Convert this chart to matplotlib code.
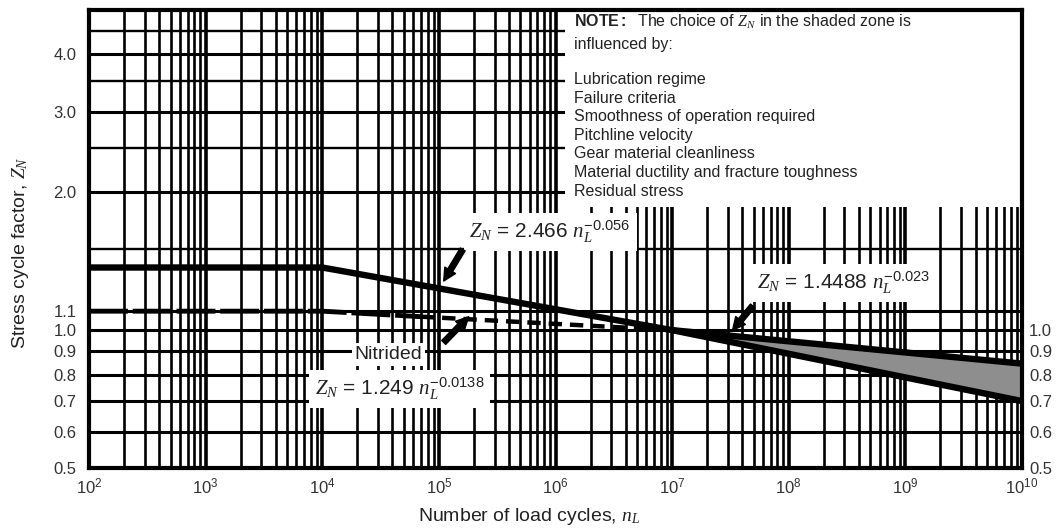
import matplotlib
matplotlib.use("Agg")
import matplotlib.pyplot as plt
from matplotlib.patches import Rectangle
from matplotlib.ticker import FixedLocator, LogLocator, NullFormatter
import numpy as np

plt.rcParams['font.family'] = ['Liberation Sans', 'DejaVu Sans']
plt.rcParams['mathtext.fontset'] = 'custom'
plt.rcParams['mathtext.rm'] = 'Liberation Sans'
plt.rcParams['mathtext.it'] = 'Liberation Serif:italic'
plt.rcParams['mathtext.bf'] = 'Liberation Sans:bold'

# curves
cycles_upper = [1e2, 1e4, 1e7, 1e10]
zn_upper = [1.37, 1.37, 1.0, 0.70]

cycles_nitr_solid = [1e2, 1e4, 7e4]
zn_nitr_solid = [1.10, 1.10, 1.07]
cycles_nitr_dash = [7e4, 1e7]
zn_nitr_dash = [1.07, 1.0]

cycles_shade = [1e7, 1e10]
zn_shade_top = [1.0, 0.845]
zn_shade_bot = [1.0, 0.70]

yticks_left = [0.5, 0.6, 0.7, 0.8, 0.9, 1.0, 1.1, 2.0, 3.0, 4.0]
yticks_minor = [1.5, 2.5, 3.5, 4.5]
yticks_right = [0.5, 0.6, 0.7, 0.8, 0.9, 1.0]

note_items = ["Lubrication regime", "Failure criteria",
              "Smoothness of operation required", "Pitchline velocity",
              "Gear material cleanliness",
              "Material ductility and fracture toughness", "Residual stress"]

fig = plt.figure(figsize=(10.56, 5.29), dpi=100)
ax = fig.add_axes([0.0843, 0.1153, 0.8835, 0.8658])
ax.set_xscale('log')
ax.set_yscale('log')
ax.set_xlim(1e2, 1e10)
ax.set_ylim(0.5, 5.0)

ax.xaxis.set_minor_locator(LogLocator(base=10, subs=np.arange(2, 10), numticks=100))
ax.xaxis.set_minor_formatter(NullFormatter())
ax.yaxis.set_major_locator(FixedLocator(yticks_left))
ax.set_yticklabels(["%.1f" % v for v in yticks_left])
ax.yaxis.set_minor_locator(FixedLocator(yticks_minor))
ax.yaxis.set_minor_formatter(NullFormatter())

ax.set_axisbelow(True)
ax.grid(which='major', axis='x', color='k', lw=2.6)
ax.grid(which='minor', axis='x', color='k', lw=1.9)
ax.grid(which='major', axis='y', color='k', lw=2.2)
ax.grid(which='minor', axis='y', color='k', lw=1.7)
ax.tick_params(which='both', length=0)
ax.tick_params(axis='y', labelsize=12, pad=9, colors='#333333')
ax.tick_params(axis='x', labelsize=12, pad=6, colors='#333333')
for s in ax.spines.values():
    s.set_linewidth(3)

# white zone behind the note
ax.add_patch(Rectangle((1.2e6, 1.86), 1e10 - 1.2e6, 5.0 - 1.86,
                       facecolor='white', edgecolor='none', zorder=1))

# shaded zone
ax.fill_between(cycles_shade, zn_shade_bot, zn_shade_top, color='#8e8e8e', lw=0, zorder=2)
ax.plot(cycles_upper, zn_upper, color='k', lw=4.6, solid_capstyle='butt', zorder=3)
ax.plot(cycles_shade, zn_shade_top, color='k', lw=4.6, solid_capstyle='butt', zorder=3)
ax.plot(cycles_nitr_solid, zn_nitr_solid, color='k', lw=3.5, dashes=(8, 1), zorder=3)
ax.plot(cycles_nitr_dash, zn_nitr_dash, color='k', lw=3.2, dashes=(3, 1.8), zorder=3)

# note
ax.text(1.45e6, 4.72, r"$\bf{NOTE:}$  The choice of $Z_N$ in the shaded zone is",
        fontsize=11.5, va='center', color='#222222', zorder=4)
ax.text(1.45e6, 4.2, "influenced by:", fontsize=11.5, va='center', color='#222222', zorder=4)
ax.text(1.45e6, 3.66, "\n".join(note_items), fontsize=11.5, va='top',
        linespacing=1.3, color='#222222', zorder=4)

box = dict(facecolor='white', edgecolor='none', pad=4)
arrow = dict(arrowstyle='simple,head_length=0.9,head_width=0.9,tail_width=0.4',
             color='k', shrinkA=0, shrinkB=0)

ax.text(9.0e5, 1.64, r"$Z_N$ = 2.466 $n_L^{-0.056}$", fontsize=15, ha='center',
        va='center', bbox=box, zorder=4, color='#222222')
ax.annotate("", xy=(1.1e5, 1.28), xytext=(1.6e5, 1.5), arrowprops=arrow, zorder=5)

ax.text(3.7e4, 0.885, "Nitrided", fontsize=14, ha='center', va='center',
        bbox=dict(facecolor='white', edgecolor='none', pad=2), zorder=4, color='#222222')
ax.annotate("", xy=(1.8e5, 1.07), xytext=(1.1e5, 0.94), arrowprops=arrow, zorder=5)

ax.text(4.6e4, 0.745, r"$Z_N$ = 1.249 $n_L^{-0.0138}$", fontsize=15, ha='center',
        va='center', bbox=box, zorder=4, color='#222222')

ax.text(2.95e8, 1.27, r"$Z_N$ = 1.4488 $n_L^{-0.023}$", fontsize=15, ha='center',
        va='center', bbox=box, zorder=4, color='#222222')
ax.annotate("", xy=(3.3e7, 1.0), xytext=(4.9e7, 1.13), arrowprops=arrow, zorder=5)

# right-hand labels
ax2 = ax.twinx()
ax2.set_yscale('log')
ax2.set_ylim(0.5, 5.0)
ax2.yaxis.set_major_locator(FixedLocator(yticks_right))
ax2.set_yticklabels(["%.1f" % v for v in yticks_right])
ax2.yaxis.set_minor_locator(FixedLocator([]))
ax2.tick_params(which='both', length=0, labelsize=12, pad=5, colors='#333333')
for s in ax2.spines.values():
    s.set_visible(False)

ax.set_xlabel(r"Number of load cycles, $n_L$", fontsize=14, color='#222222')
ax.xaxis.set_label_coords(0.4716, -0.083)
ax.set_ylabel(r"Stress cycle factor, $Z_N$", fontsize=14, color='#222222')
ax.yaxis.set_label_coords(-0.062, 0.47)

fig.savefig("out.png", dpi=100)
